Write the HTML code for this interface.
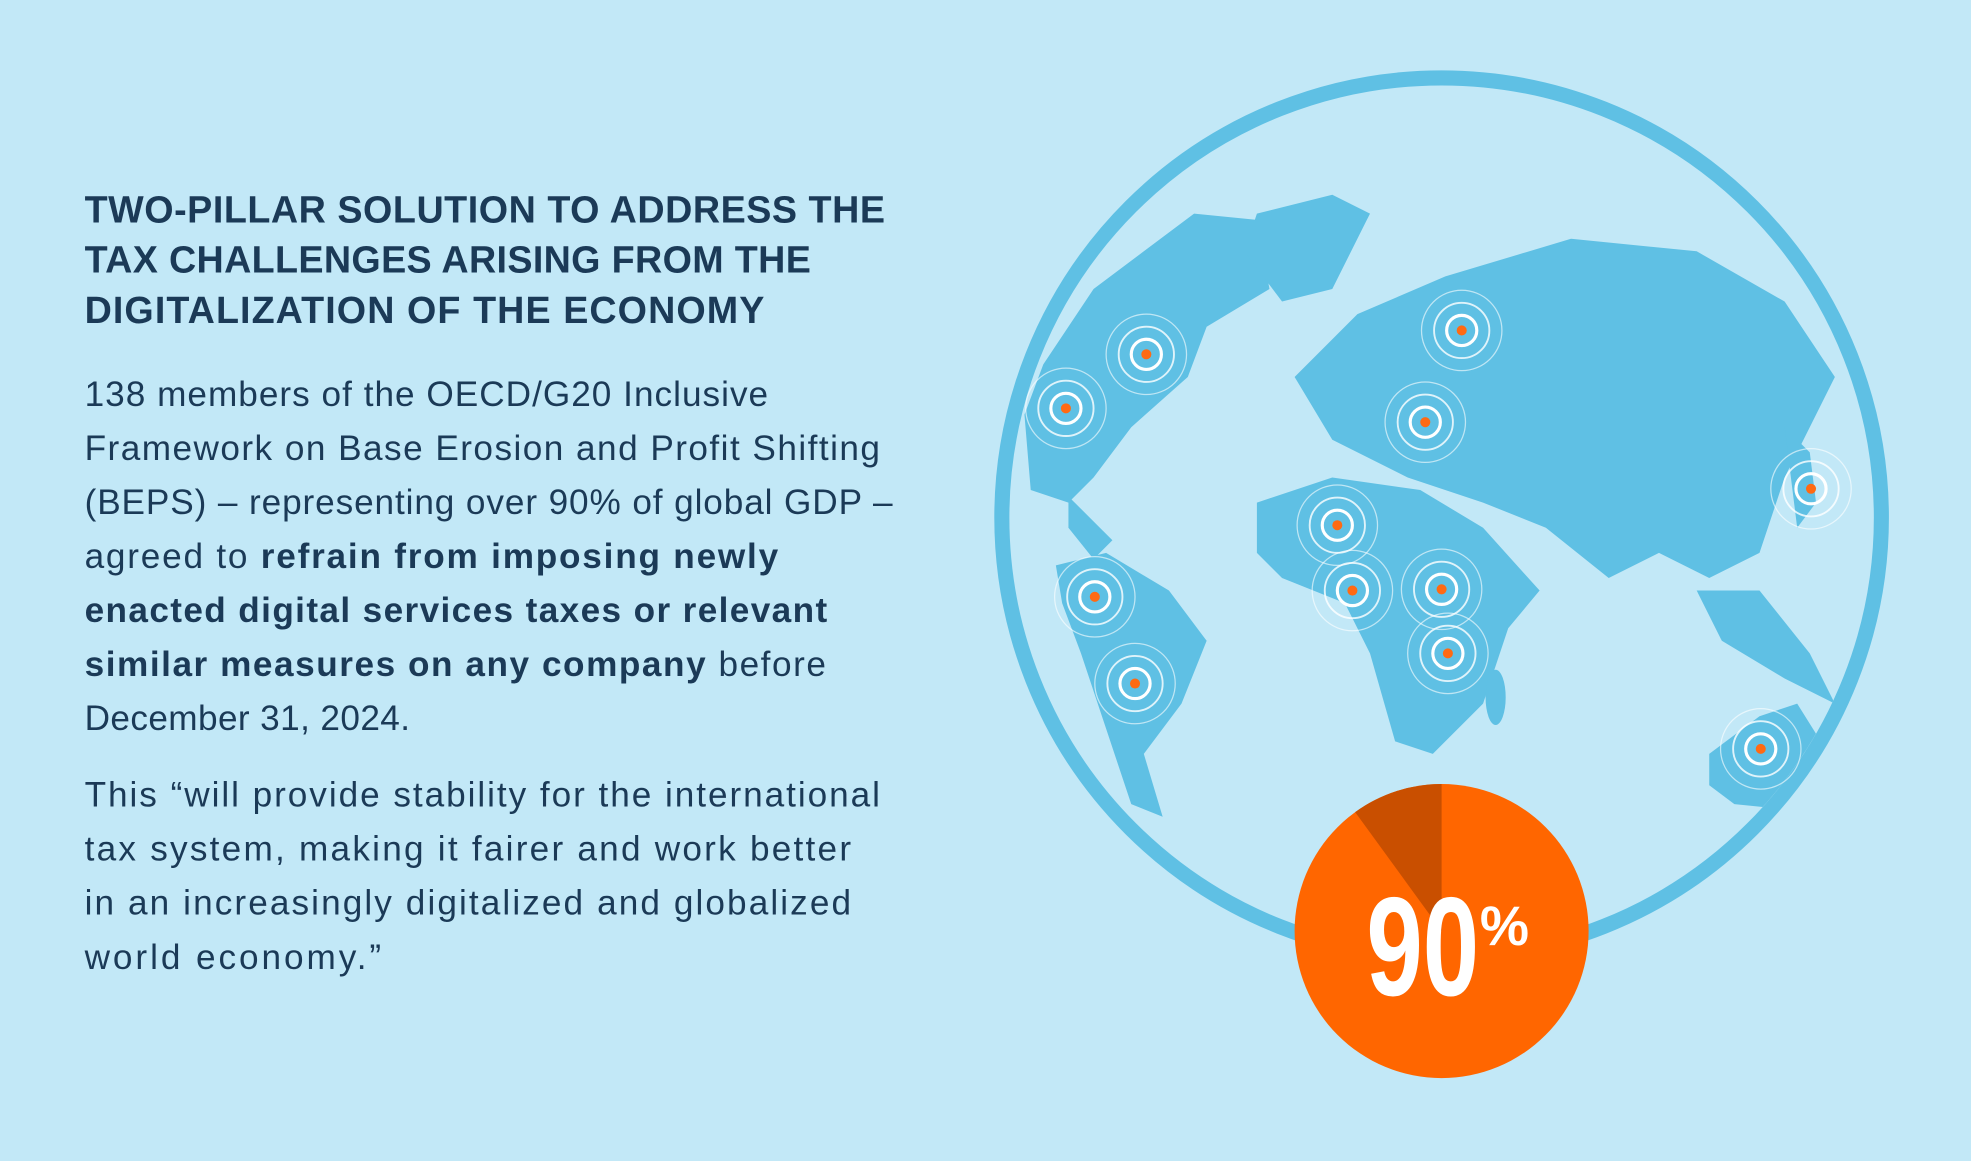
<!DOCTYPE html>
<html><head><meta charset="utf-8"><style>
html,body{margin:0;padding:0;background:#c2e8f7;}
svg{display:block}
</style></head><body>
<svg width="1971" height="1161" viewBox="0 0 1568 924" xmlns="http://www.w3.org/2000/svg">
<rect width="1568" height="924" fill="#c2e8f7"/>
<g font-family="Liberation Sans, sans-serif" fill="#1b3a57">
<g font-size="30" font-weight="bold" lengthAdjust="spacing">
<text x="67" y="177" textLength="637">TWO-PILLAR SOLUTION TO ADDRESS THE</text>
<text x="67" y="217" textLength="578">TAX CHALLENGES ARISING FROM THE</text>
<text x="67" y="257" textLength="541">DIGITALIZATION OF THE ECONOMY</text>
</g>
<g font-size="28" lengthAdjust="spacing">
<text x="67" y="323" textLength="544">138 members of the OECD/G20 Inclusive</text>
<text x="67" y="366" textLength="633">Framework on Base Erosion and Profit Shifting</text>
<text x="67" y="409" textLength="643">(BEPS) – representing over 90% of global GDP –</text>
<text x="67" y="452" textLength="552">agreed to <tspan font-weight="bold">refrain from imposing newly</tspan></text>
<text x="67" y="495" font-weight="bold" textLength="591">enacted digital services taxes or relevant</text>
<text x="67" y="538" textLength="590"><tspan font-weight="bold">similar measures on any company</tspan> before</text>
<text x="67" y="581" textLength="259">December 31, 2024.</text>
<text x="67" y="642" textLength="633">This “will provide stability for the international</text>
<text x="67" y="685" textLength="610">tax system, making it fairer and work better</text>
<text x="67" y="728" textLength="610">in an increasingly digitalized and globalized</text>
<text x="67" y="771" textLength="236">world economy.”</text>
</g></g>
<defs><clipPath id="c"><circle cx="1147" cy="412" r="344"/></clipPath></defs>
<g clip-path="url(#c)" fill="#5fc0e4">
<polygon points="830,290 870,230 950,170 1000,175 1010,230 960,260 945,300 900,340 870,380 850,400 820,390 815,330"/>
<polygon points="1000,170 1060,155 1090,170 1060,230 1020,240 990,200"/>
<polygon points="850,395 885,430 870,445 850,420"/>
<polygon points="840,450 880,440 930,470 960,510 940,560 910,600 925,650 900,640 880,580 860,520 845,480"/>
<polygon points="1030,300 1080,250 1150,220 1250,190 1350,200 1420,240 1460,300 1440,340 1420,380 1400,440 1360,460 1320,440 1280,460 1230,420 1180,400 1120,380 1060,350"/>
<polygon points="1000,400 1060,380 1130,390 1180,420 1225,470 1200,500 1180,560 1140,600 1110,590 1090,520 1070,480 1020,460 1000,440"/>
<polygon points="1350,470 1400,470 1440,520 1460,560 1420,540 1370,510"/>
<polygon points="1360,600 1400,570 1430,560 1455,600 1430,645 1380,640 1360,625"/>
<ellipse cx="1190" cy="555" rx="8" ry="22"/>
<polygon points="1420,340 1440,360 1445,400 1430,420 1425,380"/>
</g>
<circle cx="1147" cy="412" r="350" fill="none" stroke="#5fc0e4" stroke-width="12"/>
<g>
<g fill="none" stroke="#ffffff">
<circle cx="912" cy="282" r="12" stroke-width="2.5"/><circle cx="912" cy="282" r="22" stroke-width="1.5" opacity=".8"/><circle cx="912" cy="282" r="32" stroke-width="1" opacity=".6"/>
<circle cx="848" cy="325" r="12" stroke-width="2.5"/><circle cx="848" cy="325" r="22" stroke-width="1.5" opacity=".8"/><circle cx="848" cy="325" r="32" stroke-width="1" opacity=".6"/>
<circle cx="1163" cy="263" r="12" stroke-width="2.5"/><circle cx="1163" cy="263" r="22" stroke-width="1.5" opacity=".8"/><circle cx="1163" cy="263" r="32" stroke-width="1" opacity=".6"/>
<circle cx="1134" cy="336" r="12" stroke-width="2.5"/><circle cx="1134" cy="336" r="22" stroke-width="1.5" opacity=".8"/><circle cx="1134" cy="336" r="32" stroke-width="1" opacity=".6"/>
<circle cx="1064" cy="418" r="12" stroke-width="2.5"/><circle cx="1064" cy="418" r="22" stroke-width="1.5" opacity=".8"/><circle cx="1064" cy="418" r="32" stroke-width="1" opacity=".6"/>
<circle cx="1441" cy="389" r="12" stroke-width="2.5"/><circle cx="1441" cy="389" r="22" stroke-width="1.5" opacity=".8"/><circle cx="1441" cy="389" r="32" stroke-width="1" opacity=".6"/>
<circle cx="871" cy="475" r="12" stroke-width="2.5"/><circle cx="871" cy="475" r="22" stroke-width="1.5" opacity=".8"/><circle cx="871" cy="475" r="32" stroke-width="1" opacity=".6"/>
<circle cx="1076" cy="470" r="12" stroke-width="2.5"/><circle cx="1076" cy="470" r="22" stroke-width="1.5" opacity=".8"/><circle cx="1076" cy="470" r="32" stroke-width="1" opacity=".6"/>
<circle cx="1147" cy="469" r="12" stroke-width="2.5"/><circle cx="1147" cy="469" r="22" stroke-width="1.5" opacity=".8"/><circle cx="1147" cy="469" r="32" stroke-width="1" opacity=".6"/>
<circle cx="1152" cy="520" r="12" stroke-width="2.5"/><circle cx="1152" cy="520" r="22" stroke-width="1.5" opacity=".8"/><circle cx="1152" cy="520" r="32" stroke-width="1" opacity=".6"/>
<circle cx="903" cy="544" r="12" stroke-width="2.5"/><circle cx="903" cy="544" r="22" stroke-width="1.5" opacity=".8"/><circle cx="903" cy="544" r="32" stroke-width="1" opacity=".6"/>
<circle cx="1401" cy="596" r="12" stroke-width="2.5"/><circle cx="1401" cy="596" r="22" stroke-width="1.5" opacity=".8"/><circle cx="1401" cy="596" r="32" stroke-width="1" opacity=".6"/>
</g>
<g fill="#ff6a13">
<circle cx="912" cy="282" r="4"/><circle cx="848" cy="325" r="4"/><circle cx="1163" cy="263" r="4"/><circle cx="1134" cy="336" r="4"/><circle cx="1064" cy="418" r="4"/><circle cx="1441" cy="389" r="4"/><circle cx="871" cy="475" r="4"/><circle cx="1076" cy="470" r="4"/><circle cx="1147" cy="469" r="4"/><circle cx="1152" cy="520" r="4"/><circle cx="903" cy="544" r="4"/><circle cx="1401" cy="596" r="4"/>
</g></g>
<circle cx="1147" cy="741" r="117" fill="#ff6600"/>
<path d="M1147,741 L1147,624 A117,117 0 0 0 1078.2,646.3 Z" fill="#c94f00"/>
<text x="1132" y="792" text-anchor="middle" font-family="Liberation Sans Narrow, Liberation Sans, sans-serif" font-weight="bold" font-size="112" fill="#fff" transform="translate(1132 0) scale(0.72 1) translate(-1132 0)">90</text>
<text x="1197" y="752" text-anchor="middle" font-family="Liberation Sans Narrow, Liberation Sans, sans-serif" font-weight="bold" font-size="44" fill="#fff">%</text>
</svg>
</body></html>
